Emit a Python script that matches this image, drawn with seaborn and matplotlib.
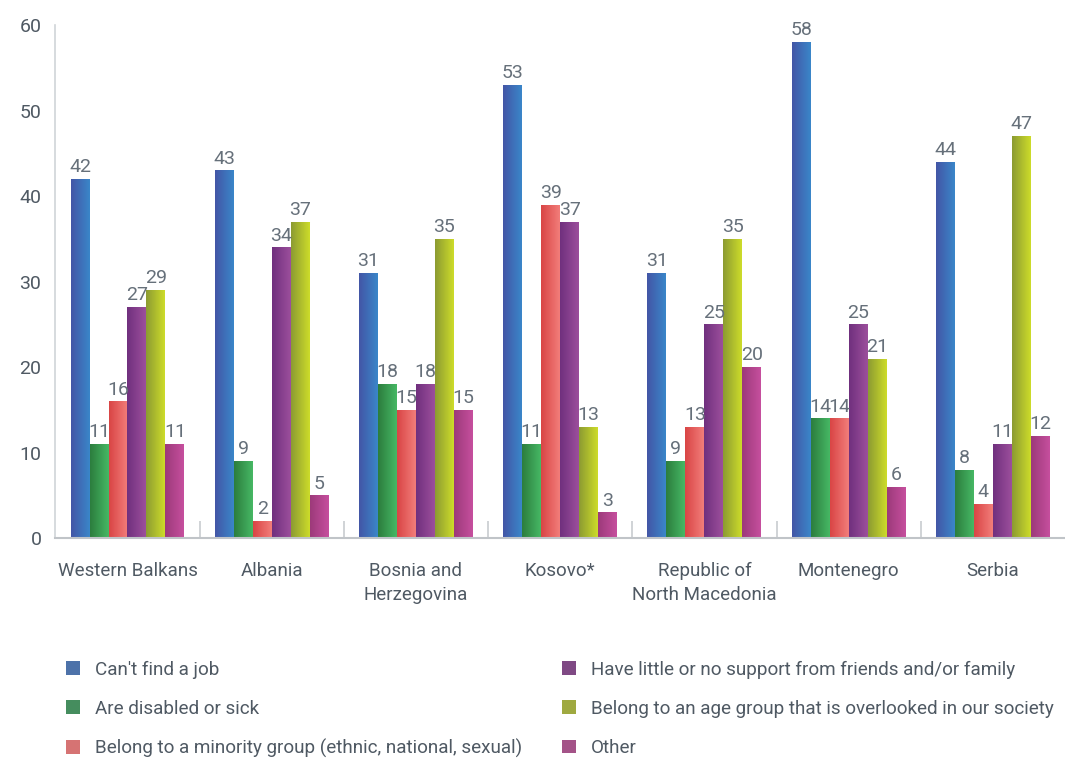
import seaborn as sns
import matplotlib.pyplot as plt
import numpy as np
import pandas as pd
from matplotlib.colors import LinearSegmentedColormap

regions = ['Western Balkans', 'Albania', 'Bosnia and\nHerzegovina', 'Kosovo*',
           'Republic of\nNorth Macedonia', 'Montenegro', 'Serbia']
reasons = ["Can't find a job",
           'Are disabled or sick',
           'Belong to a minority group (ethnic, national, sexual)',
           'Have little or no support from friends and/or family',
           'Belong to an age group that is overlooked in our society',
           'Other']
cant_find_job = [42, 43, 31, 53, 31, 58, 44]
disabled_sick = [11, 9, 18, 11, 9, 14, 8]
minority = [16, 2, 15, 39, 13, 14, 4]
little_support = [27, 34, 18, 37, 25, 25, 11]
age_group = [29, 37, 35, 13, 35, 21, 47]
other = [11, 5, 15, 3, 20, 6, 12]

# gradient colours (left, right) for each series
grad = [('#4356a6', '#3a86c9'), ('#2c7d3e', '#46b864'), ('#d94545', '#f27d7a'),
        ('#70307e', '#9c4f9c'), ('#8c9b32', '#cddc2a'), ('#9c3a7a', '#c64f9e')]
mids = ['#3e6fb8', '#39995a', '#e76262', '#873f8e', '#adbb2e', '#b2458c']

series = [cant_find_job, disabled_sick, minority, little_support, age_group, other]
df = pd.DataFrame([(r, reasons[i], v) for i, s in enumerate(series) for r, v in zip(regions, s)],
                  columns=['region', 'reason', 'value'])

plt.rcParams['font.family'] = ['Roboto', 'DejaVu Sans']

fig = plt.figure(figsize=(10.65, 7.59), dpi=100)
ax = fig.add_axes([0.052, 0.291, 0.948, 0.676])
sns.barplot(data=df, x='region', y='value', hue='reason',
            order=regions, hue_order=reasons, palette=mids, width=0.79,
            edgecolor='white', linewidth=1, ax=ax, legend=True)

# gradient fill in each bar
for cont, (c1, c2) in zip(ax.containers, grad):
    cmap = LinearSegmentedColormap.from_list('g', [c1, c2])
    for p in cont.patches:
        x0, y0 = p.get_x(), p.get_y()
        w, h = p.get_width(), p.get_height()
        im = ax.imshow(np.linspace(0, 1, 64).reshape(1, -1), cmap=cmap, aspect='auto',
                       extent=[x0, x0 + w, y0, y0 + h], zorder=p.get_zorder() + 0.1)
        im.set_clip_path(p)
    ax.bar_label(cont, padding=2, fontsize=14, color='#66707a')
ax.set_xlim(-0.5, len(regions) - 0.5)
ax.set_ylim(0, 60)

ax.set_xlabel('')
ax.set_ylabel('')
ax.set_yticks(range(0, 61, 10))
ax.tick_params(axis='y', length=0, labelsize=14, labelcolor='#4f5963', pad=10)
ax.tick_params(axis='x', length=0, labelsize=13.5, labelcolor='#4f5963', pad=17)
for t in ax.get_xticklabels():
    t.set_linespacing(1.45)
ax.set_xticks(np.arange(0.5, len(regions) - 1, 1), minor=True)
ax.tick_params(axis='x', which='minor', direction='in', length=12, color='#c8ccd0', width=1.2)
for s in ['top', 'right']:
    ax.spines[s].set_visible(False)
ax.spines['left'].set_color('#d0d4d8')
ax.spines['bottom'].set_color('#c0c4c8')
ax.spines['left'].set_linewidth(1.2)
ax.spines['bottom'].set_linewidth(1.5)

handles, labels = ax.get_legend_handles_labels()
ax.get_legend().remove()
leg = fig.legend(handles, labels, loc='upper left', bbox_to_anchor=(0.046, 0.152), ncol=2,
                 frameon=False, fontsize=13.6, labelcolor='#4f5963', handlelength=0.75,
                 handleheight=0.75, handletextpad=0.8, labelspacing=1.12, columnspacing=2.1)
for h in leg.legend_handles:
    h.set_edgecolor('none')

fig.savefig('out.png', dpi=100, facecolor='white')
